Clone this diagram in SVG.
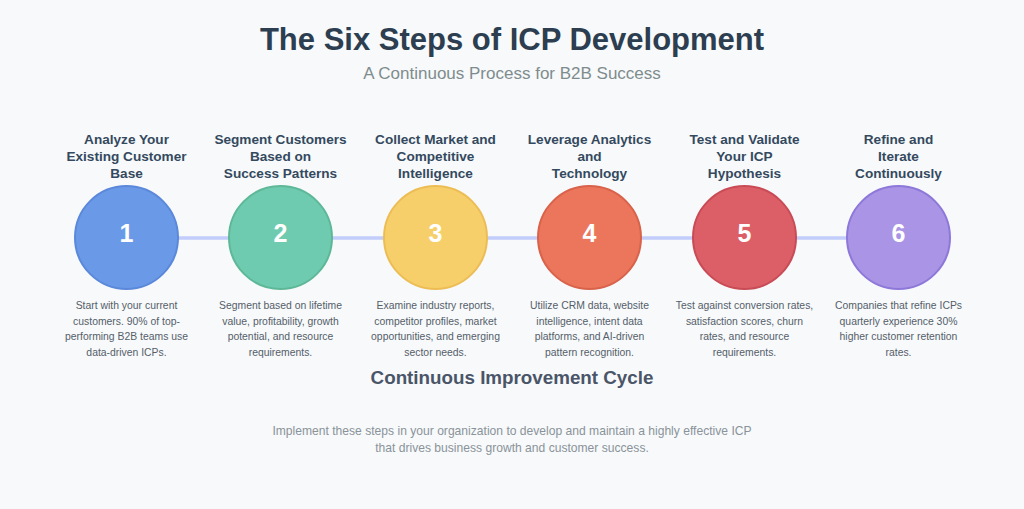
<svg xmlns="http://www.w3.org/2000/svg" width="1024" height="509" viewBox="0 0 1024 509">
<style>
text{font-family:"Liberation Sans",Arial,Helvetica,sans-serif;text-anchor:middle}
.title{font-size:31px;font-weight:bold;fill:#2c3e50}
.sub{font-size:17px;fill:#7f8c8d}
.st{font-size:13.6px;font-weight:bold;fill:#34495e}
.num{font-size:25px;font-weight:bold;fill:#ffffff}
.desc{font-size:10.4px;fill:#555e69}
.cyc{font-size:18.8px;font-weight:bold;fill:#4a5568}
.foot{font-size:12.1px;fill:#8a9399}
.conn{stroke:#c2cdfb;stroke-width:3.5;fill:none}
.c{stroke-width:2}
</style>
<rect width="1024" height="509" fill="#f7f9fb"/>
<text class="title" x="512" y="50">The Six Steps of ICP Development</text>
<text class="sub" x="512" y="79">A Continuous Process for B2B Success</text>
<g id="connectors">
<line class="conn" x1="178" y1="238" x2="229" y2="238"/>
<line class="conn" x1="332" y1="238" x2="384" y2="238"/>
<line class="conn" x1="487" y1="238" x2="538" y2="238"/>
<line class="conn" x1="641" y1="238" x2="693" y2="238"/>
<line class="conn" x1="796" y1="238" x2="847" y2="238"/>
</g>
<g id="step1">
<text class="st" x="126.5" y="144">Analyze Your</text>
<text class="st" x="126.5" y="161">Existing Customer</text>
<text class="st" x="126.5" y="178">Base</text>
<circle class="c" cx="126.5" cy="237.5" r="51.5" fill="#6a9ae7" stroke="#5b88da"/>
<text class="num" x="126.5" y="242">1</text>
<text class="desc" x="126.5" y="309">Start with your current</text>
<text class="desc" x="126.5" y="325">customers. 90% of top-</text>
<text class="desc" x="126.5" y="340">performing B2B teams use</text>
<text class="desc" x="126.5" y="356">data-driven ICPs.</text>
</g>
<g id="step2">
<text class="st" x="280.5" y="144">Segment Customers</text>
<text class="st" x="280.5" y="161">Based on</text>
<text class="st" x="280.5" y="178">Success Patterns</text>
<circle class="c" cx="280.5" cy="237.5" r="51.5" fill="#6fcbaf" stroke="#5eb898"/>
<text class="num" x="280.5" y="242">2</text>
<text class="desc" x="280.5" y="309">Segment based on lifetime</text>
<text class="desc" x="280.5" y="325">value, profitability, growth</text>
<text class="desc" x="280.5" y="340">potential, and resource</text>
<text class="desc" x="280.5" y="356">requirements.</text>
</g>
<g id="step3">
<text class="st" x="435.5" y="144">Collect Market and</text>
<text class="st" x="435.5" y="161">Competitive</text>
<text class="st" x="435.5" y="178">Intelligence</text>
<circle class="c" cx="435.5" cy="237.5" r="51.5" fill="#f6cf6a" stroke="#edbd55"/>
<text class="num" x="435.5" y="242">3</text>
<text class="desc" x="435.5" y="309">Examine industry reports,</text>
<text class="desc" x="435.5" y="325">competitor profiles, market</text>
<text class="desc" x="435.5" y="340">opportunities, and emerging</text>
<text class="desc" x="435.5" y="356">sector needs.</text>
</g>
<g id="step4">
<text class="st" x="589.5" y="144">Leverage Analytics</text>
<text class="st" x="589.5" y="161">and</text>
<text class="st" x="589.5" y="178">Technology</text>
<circle class="c" cx="589.5" cy="237.5" r="51.5" fill="#eb765b" stroke="#d8624a"/>
<text class="num" x="589.5" y="242">4</text>
<text class="desc" x="589.5" y="309">Utilize CRM data, website</text>
<text class="desc" x="589.5" y="325">intelligence, intent data</text>
<text class="desc" x="589.5" y="340">platforms, and AI-driven</text>
<text class="desc" x="589.5" y="356">pattern recognition.</text>
</g>
<g id="step5">
<text class="st" x="744.5" y="144">Test and Validate</text>
<text class="st" x="744.5" y="161">Your ICP</text>
<text class="st" x="744.5" y="178">Hypothesis</text>
<circle class="c" cx="744.5" cy="237.5" r="51.5" fill="#dc5f68" stroke="#c84b55"/>
<text class="num" x="744.5" y="242">5</text>
<text class="desc" x="744.5" y="309">Test against conversion rates,</text>
<text class="desc" x="744.5" y="325">satisfaction scores, churn</text>
<text class="desc" x="744.5" y="340">rates, and resource</text>
<text class="desc" x="744.5" y="356">requirements.</text>
</g>
<g id="step6">
<text class="st" x="898.5" y="144">Refine and</text>
<text class="st" x="898.5" y="161">Iterate</text>
<text class="st" x="898.5" y="178">Continuously</text>
<circle class="c" cx="898.5" cy="237.5" r="51.5" fill="#a994e6" stroke="#8d78d9"/>
<text class="num" x="898.5" y="242">6</text>
<text class="desc" x="898.5" y="309">Companies that refine ICPs</text>
<text class="desc" x="898.5" y="325">quarterly experience 30%</text>
<text class="desc" x="898.5" y="340">higher customer retention</text>
<text class="desc" x="898.5" y="356">rates.</text>
</g>
<text class="cyc" x="512" y="384">Continuous Improvement Cycle</text>
<text class="foot" x="512" y="435">Implement these steps in your organization to develop and maintain a highly effective ICP</text>
<text class="foot" x="512" y="452">that drives business growth and customer success.</text>
</svg>
